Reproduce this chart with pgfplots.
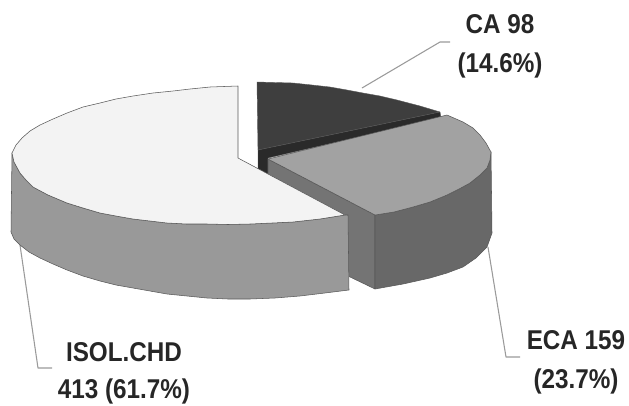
\documentclass[border=0pt]{standalone}
\usepackage{fontspec}
\setmainfont{Liberation Sans}
\usepackage{graphicx}
\usepackage{pgfplots}
\pgfplotsset{compat=1.18}
\definecolor{catop}{HTML}{3E3E3E}
\definecolor{caside}{HTML}{2A2A2A}
\definecolor{ecatop}{HTML}{A2A2A2}
\definecolor{ecainner}{HTML}{747474}
\definecolor{ecaouter}{HTML}{686868}
\definecolor{isoltop}{HTML}{F3F3F3}
\definecolor{isolside}{HTML}{999999}
\definecolor{edge}{HTML}{585858}
\definecolor{leader}{HTML}{9A9A9A}
\definecolor{labeltext}{HTML}{262626}
\tikzset{slicelabel/.style={font=\bfseries\fontsize{18.2}{20}\selectfont, text=labeltext, anchor=base, inner sep=0pt}}
\newcommand{\tall}[1]{\scalebox{1}[1.12]{#1}}
\begin{document}
\begin{tikzpicture}
\begin{axis}[
  anchor=south west, at={(0,0)},
  width=471.75pt, height=303.75pt, scale only axis,
  xmin=0, xmax=629, ymin=0, ymax=405, y dir=reverse,
  hide axis, clip=false,
  every axis plot/.append style={no markers, line join=round},
]
% Invisible frame that fixes the extent of the page
\addplot[draw=none] coordinates {(0,0) (629,0) (629,405) (0,405)};

% Leader lines
\addplot[leader, line width=0.8pt] coordinates {(362,88) (440,42) (450,42)};
\addplot[leader, line width=0.8pt] coordinates {(488,247) (506,357) (520,357)};
\addplot[leader, line width=0.8pt] coordinates {(20,245) (38,368) (52,368)};

% CA 98: top and cut face
\addplot[fill=catop, draw=edge, line width=0.3pt] coordinates {
  (257,82) (275,82.5) (293,83) (312,85) (330,87) (347,90) (363,93) (380,96)
  (397,100) (420,106) (440,112) (258,150)} -- cycle;
\addplot[fill=caside, draw=edge, line width=0.3pt] coordinates {
  (258,150) (440,112) (441,118) (268,158) (268,175) (258,175)} -- cycle;

% ECA 159: cut face, top and rim
\addplot[fill=ecainner, draw=edge, line width=0.4pt] coordinates {
  (268,159) (375,215) (375,289) (348,276) (268,235)} -- cycle;
\addplot[fill=ecaouter, draw=edge, line width=0.4pt] coordinates {
  (375,215) (394,212) (413,207) (430,202) (447,195) (459,189) (470,183) (480,175)
  (487,168) (490,160) (491,152) (492,233) (487,247) (476,258) (463,267) (447,273)
  (430,278) (403,284) (375,289)} -- cycle;
\addplot[fill=ecatop, draw=edge, line width=0.4pt] coordinates {
  (268,159) (447,115) (463,122) (473,128) (480,135) (486,143) (491,152) (490,160)
  (487,168) (480,175) (470,183) (459,189) (447,195) (430,202) (413,207) (394,212)
  (375,215)} -- cycle;

% ISOL.CHD: rim and top
\addplot[fill=isolside, draw=edge, line width=0.4pt] coordinates {
  (345,215) (320,219) (293,222) (272,223) (250,224) (228,224.5) (207,224) (187,224)
  (167,223) (150,221) (133,219) (116,216) (100,213) (83,208) (67,203) (48,195)
  (33,187) (26,180) (20,173) (14,162) (12,153) (11,232) (14,239) (20,245) (29,252)
  (40,258) (53,264) (67,270) (83,276) (100,281) (116,285) (133,288) (150,291)
  (167,294) (187,296) (207,298) (228,299) (250,299) (275,298) (300,296) (325,293)
  (349,290) (348,215)} -- cycle;
\addplot[fill=isoltop, draw=edge, line width=0.4pt] coordinates {
  (238,158) (238,86) (210,87) (190,89) (173,91) (153,93) (133,96) (116,99) (100,103)
  (83,107) (67,113) (53,119) (40,125) (30,131) (22,138) (16,145) (12,153) (14,162)
  (20,173) (26,180) (33,187) (48,195) (67,203) (83,208) (100,213) (116,216) (133,219)
  (150,221) (167,223) (187,224) (207,224) (228,224.5) (250,224) (272,223) (293,222)
  (320,219) (345,215)} -- cycle;

% Slice labels
\node[slicelabel] at (axis cs:500,33) {\tall{CA 98}};
\node[slicelabel] at (axis cs:500,72) {\tall{(14.6\%)}};
\node[slicelabel] at (axis cs:576,349) {\tall{ECA 159}};
\node[slicelabel] at (axis cs:576,388) {\tall{(23.7\%)}};
\node[slicelabel] at (axis cs:124,361) {\tall{ISOL.CHD}};
\node[slicelabel] at (axis cs:124,398) {\tall{413 (61.7\%)}};
\end{axis}
\end{tikzpicture}
\end{document}
